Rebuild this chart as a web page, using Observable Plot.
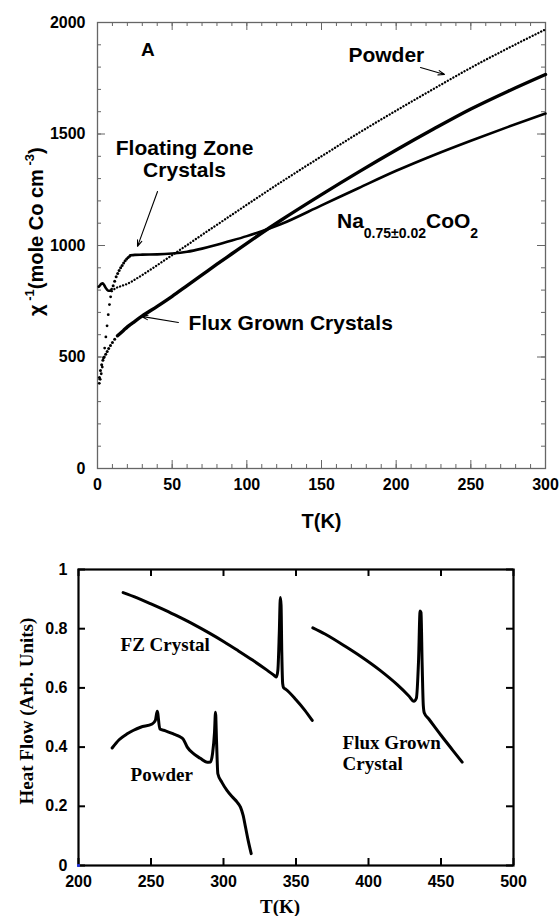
<!DOCTYPE html>
<html><head><meta charset="utf-8">
<script src="https://cdn.jsdelivr.net/npm/d3@7"></script>
<script src="https://cdn.jsdelivr.net/npm/@observablehq/plot@0.6"></script>
<style>
html,body{margin:0;padding:0;background:#fff;}
#c{width:560px;}
#c svg{display:block;}
</style></head><body><div id="c"></div>
<script>
// ---------- Panel A: inverse susceptibility ----------
const powderT   = [9.6, 12, 15, 20, 24, 30, 40, 50, 60, 70, 80, 90, 100, 122.6, 150, 175, 200, 225, 250, 275, 300];
const powderChi = [795, 808, 816, 828, 843, 868, 912, 957, 1002, 1048, 1093, 1138, 1183, 1283, 1400, 1505, 1605, 1702, 1797, 1885, 1969];
const powderLowT   = [1.2, 1.8, 2.5, 3.2, 4, 4.8, 5.6, 6.4, 7.2, 8, 8.8];
const powderLowChi = [382, 400, 425, 455, 495, 540, 590, 640, 690, 735, 770];

const fluxT   = [13.4, 17.4, 20, 25, 30, 40, 50, 60, 70, 80, 90, 100, 110, 122.6, 150, 175, 200, 225, 250, 275, 300];
const fluxChi = [595, 619, 635, 660, 684, 727, 772, 820, 868, 916, 963, 1010, 1056, 1112, 1228, 1330, 1428, 1522, 1612, 1692, 1767];
const fluxLowT   = [1.3, 2, 2.8, 3.6, 4.5, 5.5, 6.5, 7.5, 8.7, 10, 11.5];
const fluxLowChi = [408, 440, 465, 485, 500, 512, 525, 538, 552, 565, 580];

const fzLowT   = [0.8, 1.5, 2.5, 3.5, 4.5, 5.5, 6.5, 7.5, 8.7, 9.5];
const fzLowChi = [815, 820, 828, 830, 822, 810, 801, 797, 797, 805];
const fzStepT   = [10.5, 11.5, 12.5, 13.5, 14.5, 15.5, 16.5, 17.5, 18.5, 19.5, 20.5, 21.5];
const fzStepChi = [820, 840, 860, 875, 888, 900, 910, 922, 932, 940, 946, 952];
const fzT   = [22, 25, 30, 40, 50, 60, 70, 80, 90, 100, 110, 122.6, 150, 175, 200, 225, 250, 275, 300];
const fzChi = [956, 958, 959, 960, 964, 972, 986, 1003, 1022, 1042, 1064, 1095, 1180, 1258, 1335, 1405, 1470, 1532, 1592];

const xMajorA = [0, 50, 100, 150, 200, 250, 300];
const xMinorA = d3.range(0, 301, 10);
const yMajorA = [0, 500, 1000, 1500, 2000];
const yMinorA = d3.range(0, 2001, 100);

// ---------- Panel B: heat flow ----------
const dscFzT = [230.8, 240, 250, 260, 270, 280, 290, 300, 310, 320, 330, 335, 336.5, 337.5, 338.5, 339.2, 339.7, 340.2, 340.8, 341.5, 343, 350, 356, 361.2];
const dscFz  = [0.922, 0.905, 0.884, 0.862, 0.838, 0.813, 0.786, 0.757, 0.726, 0.694, 0.660, 0.642, 0.637, 0.660, 0.790, 0.905, 0.880, 0.720, 0.615, 0.600, 0.595, 0.560, 0.525, 0.490];

const dscPowderT = [223.2, 228, 233.6, 238, 242.8, 250.8, 253, 254.3, 256.1, 260, 265.7, 270, 272.2, 275, 279.5, 284, 288.7, 291, 292.5, 293.8, 294.5, 295.2, 296.1, 299, 302.5, 306, 309.4, 311.7, 313.5, 315.2, 317, 319.1];
const dscPowder  = [0.397, 0.425, 0.445, 0.457, 0.467, 0.478, 0.490, 0.521, 0.461, 0.455, 0.444, 0.435, 0.427, 0.400, 0.377, 0.362, 0.349, 0.350, 0.380, 0.450, 0.518, 0.420, 0.310, 0.280, 0.253, 0.232, 0.214, 0.197, 0.170, 0.129, 0.085, 0.040];

const dscFluxT = [361.6, 370, 385, 395, 408, 420, 428, 431.3, 433, 434.5, 435.6, 436.2, 437, 437.8, 438.5, 441.6, 450, 458, 464.6];
const dscFlux  = [0.803, 0.782, 0.737, 0.705, 0.659, 0.610, 0.572, 0.555, 0.565, 0.690, 0.860, 0.855, 0.680, 0.540, 0.515, 0.495, 0.440, 0.390, 0.349];

const xTicksB = [200, 250, 300, 350, 400, 450, 500];
const yTicksB = [0, 0.2, 0.4, 0.6, 0.8, 1];

const zip = (T, v) => T.map((t, i) => ({T: t, v: v[i]}));

const SANS = "'Liberation Sans', Arial, Helvetica, sans-serif";
const SERIF = "'Liberation Serif', 'Times New Roman', serif";

// annotations (data coordinates)
const notesA = [
  {T: 33.8, v: 1848, text: "A", anchor: "middle", size: 19},
  {T: 168, v: 1825, text: "Powder", anchor: "start", size: 21},
  {T: 58.3, v: 1408, text: "Floating Zone", anchor: "middle", size: 21},
  {T: 58.3, v: 1309, text: "Crystals", anchor: "middle", size: 21},
  {T: 61, v: 623, text: "Flux Grown Crystals", anchor: "start", size: 21}
];
const arrowsA = [
  {T1: 40.2, v1: 1242, T2: 26.8, v2: 996},
  {T1: 54.2, v1: 655, T2: 29.5, v2: 682},
  {T1: 216.3, v1: 1798, T2: 232.4, v2: 1767}
];
const notesB = [
  {T: 229, v: 0.723, text: "FZ Crystal"},
  {T: 235.9, v: 0.284, text: "Powder"},
  {T: 382.1, v: 0.395, text: "Flux Grown"},
  {T: 382.1, v: 0.324, text: "Crystal"}
];

const fmt = d => String(d);

const plotA = Plot.plot({
  width: 560, height: 540,
  marginLeft: 97, marginRight: 15, marginTop: 22, marginBottom: 72,
  x: {domain: [0, 300]},
  y: {domain: [0, 2000]},
  style: `font-family:${SANS};font-size:16px;font-weight:bold;background:#fff;color:#000;overflow:visible;`,
  marks: [
    Plot.ruleX(xMinorA, {stroke: "#666", strokeWidth: 1, insetTop: 446 - 4}),
    Plot.ruleX(xMinorA, {stroke: "#666", strokeWidth: 1, insetBottom: 446 - 4}),
    Plot.ruleX(xMajorA, {stroke: "#666", strokeWidth: 1, insetTop: 446 - 8}),
    Plot.ruleX(xMajorA, {stroke: "#666", strokeWidth: 1, insetBottom: 446 - 8}),
    Plot.ruleY(yMinorA, {stroke: "#666", strokeWidth: 1, insetRight: 448 - 4}),
    Plot.ruleY(yMinorA, {stroke: "#666", strokeWidth: 1, insetLeft: 448 - 4}),
    Plot.ruleY(yMajorA, {stroke: "#666", strokeWidth: 1, insetRight: 448 - 8}),
    Plot.ruleY(yMajorA, {stroke: "#666", strokeWidth: 1, insetLeft: 448 - 8}),
    Plot.frame({stroke: "#666", strokeWidth: 1.3}),
    Plot.axisX({ticks: xMajorA, tickSize: 0, tickPadding: 10, label: null, fontSize: 16, tickFormat: fmt}),
    Plot.axisY({ticks: yMajorA, tickSize: 0, tickPadding: 12, label: null, fontSize: 16, tickFormat: fmt}),
    // powder: dotted
    Plot.line(zip(powderT, powderChi), {x: "T", y: "v", stroke: "#000", strokeWidth: 2.3, strokeDasharray: "0.1,3.1", strokeLinecap: "round", curve: "monotone-x"}),
    Plot.dot(zip(powderLowT, powderLowChi), {x: "T", y: "v", r: 1.4, fill: "#000", stroke: null}),
    // flux grown
    Plot.dot(zip(fluxLowT, fluxLowChi), {x: "T", y: "v", r: 1.5, fill: "#000", stroke: null}),
    Plot.line(zip(fluxT, fluxChi), {x: "T", y: "v", stroke: "#000", strokeWidth: 3.4, curve: "monotone-x"}),
    // floating zone
    Plot.line(zip(fzLowT, fzLowChi), {x: "T", y: "v", stroke: "#000", strokeWidth: 2.6, curve: "monotone-x"}),
    Plot.dot(zip(fzStepT, fzStepChi), {x: "T", y: "v", r: 1.5, fill: "#000", stroke: null}),
    Plot.line(zip(fzT, fzChi), {x: "T", y: "v", stroke: "#000", strokeWidth: 2.6, curve: "monotone-x"}),
    // annotations
    ...notesA.map(n => Plot.text([n], {x: "T", y: "v", text: "text", textAnchor: n.anchor, fontSize: n.size, lineAnchor: "bottom", fill: "#000"})),
    Plot.arrow(arrowsA, {x1: "T1", y1: "v1", x2: "T2", y2: "v2", stroke: "#000", strokeWidth: 1.1, headLength: 9, headAngle: 40}),
    Plot.text(["T(K)"], {frameAnchor: "bottom", dy: 59, lineAnchor: "bottom", fontSize: 20, fill: "#000"})
  ]
});

const plotB = Plot.plot({
  width: 560, height: 376,
  marginLeft: 78, marginRight: 47, marginTop: 29, marginBottom: 51,
  x: {domain: [200, 500]},
  y: {domain: [0, 1]},
  style: `font-family:${SANS};font-size:16px;font-weight:bold;background:#fff;color:#000;overflow:hidden;`,
  marks: [
    Plot.ruleX(xTicksB, {stroke: "#000", strokeWidth: 2, insetTop: 296 - 7}),
    Plot.ruleX(xTicksB, {stroke: "#000", strokeWidth: 2, insetBottom: 296 - 7}),
    Plot.ruleY(yTicksB, {stroke: "#000", strokeWidth: 2, insetRight: 435 - 7}),
    Plot.ruleY(yTicksB, {stroke: "#000", strokeWidth: 2, insetLeft: 435 - 7}),
    Plot.frame({stroke: "#000", strokeWidth: 2.2}),
    Plot.axisX({ticks: xTicksB, tickSize: 0, tickPadding: 10, label: null, fontSize: 16, tickFormat: fmt}),
    Plot.axisY({ticks: yTicksB, tickSize: 0, tickPadding: 11, label: null, fontSize: 16, tickFormat: fmt}),
    Plot.line(zip(dscFzT, dscFz), {x: "T", y: "v", stroke: "#000", strokeWidth: 3, strokeLinejoin: "round", curve: "monotone-x"}),
    Plot.line(zip(dscPowderT, dscPowder), {x: "T", y: "v", stroke: "#000", strokeWidth: 3, strokeLinejoin: "round", curve: "monotone-x"}),
    Plot.line(zip(dscFluxT, dscFlux), {x: "T", y: "v", stroke: "#000", strokeWidth: 3, strokeLinejoin: "round", curve: "monotone-x"}),
    Plot.dot([{T: 200, v: 0}], {x: "T", y: "v", r: 1.6, symbol: "square", fill: "#2233dd", stroke: null}),
    Plot.text(notesB, {x: "T", y: "v", text: "text", textAnchor: "start", lineAnchor: "bottom", fontFamily: SERIF, fontSize: 19, fill: "#000"}),
    Plot.text(["T(K)"], {frameAnchor: "bottom", dx: -16, dy: 47, lineAnchor: "bottom", fontFamily: SERIF, fontSize: 19, fill: "#000"})
  ]
});

const host = document.getElementById("c");
host.appendChild(plotA);
host.appendChild(plotB);

// rich text (super/subscripts) placed with the plots' scales
function rich(svg, x, y, rotate, anchor, family, parts) {
  const t = d3.select(svg).append("text")
    .attr("transform", `translate(${x},${y}) rotate(${rotate})`)
    .attr("text-anchor", anchor)
    .attr("font-family", family)
    .attr("font-weight", "bold")
    .attr("fill", "#000");
  parts.forEach(p => t.append("tspan").attr("font-size", p.size).attr("dy", p.dy || 0).text(p.text));
}
const xA = plotA.scale("x"), yA = plotA.scale("y");
rich(plotA, 43, yA.apply(1060), -90, "middle", SANS, [
  {text: "χ", size: 20},
  {text: " -1", size: 13, dy: -9},
  {text: "(mole Co cm", size: 20, dy: 9},
  {text: " -3", size: 13, dy: -9},
  {text: ")", size: 20, dy: 9}
]);
rich(plotA, xA.apply(160.7), yA.apply(1076), 0, "start", SANS, [
  {text: "Na", size: 21},
  {text: "0.75±0.02", size: 14, dy: 10},
  {text: "CoO", size: 21, dy: -10},
  {text: "2", size: 14, dy: 10}
]);
const yB = plotB.scale("y");
rich(plotB, 33, yB.apply(0.52), -90, "middle", SERIF, [
  {text: "Heat Flow (Arb. Units)", size: 19}
]);
</script>
</body></html>
